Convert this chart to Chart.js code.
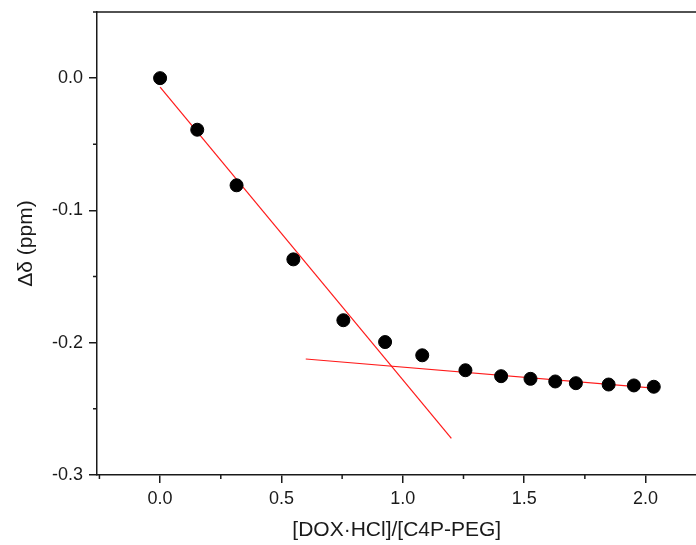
<!DOCTYPE html>
<html>
<head>
<meta charset="utf-8">
<script src="https://cdn.jsdelivr.net/npm/chart.js@4.4.1/dist/chart.umd.min.js"></script>
<style>
  html, body { margin: 0; padding: 0; background: #fff; overflow: hidden; }
  /* the plot frame runs off the right edge in the original, so the canvas is a bit wider than the page */
  #wrap { width: 696px; height: 545px; overflow: hidden; }
</style>
</head>
<body>
<div id="wrap"><canvas id="titration" width="704" height="545"></canvas></div>
<script>
// Measured points: ratio [DOX·HCl]/[C4P-PEG] vs chemical shift change
const ratioX = [0, 0.153, 0.315, 0.549, 0.755, 0.927, 1.080, 1.258, 1.405, 1.526, 1.628, 1.713, 1.848, 1.952, 2.034];
const deltaY = [0, -0.039, -0.081, -0.137, -0.183, -0.1995, -0.2095, -0.2208, -0.2253, -0.2273, -0.2293, -0.2306, -0.2316, -0.2323, -0.2333];

// Two linear fits (end points)
const fit1X = [0, 1.2];
const fit1Y = [-0.0068, -0.2724];
const fit2X = [0.6, 2.034];
const fit2Y = [-0.2123, -0.2344];

// Axis ticks
const xTicks = [0, 0.5, 1.0, 1.5, 2.0];
const xMinorTicks = [-0.25, 0.25, 0.75, 1.25, 1.75];
const yTicks = [-0.3, -0.2, -0.1, 0.0];
const yMinorTicks = [-0.25, -0.15, -0.05];

const FONT = '"Liberation Sans", Arial, sans-serif';
const INK = '#1a1a1a';

function toXY(xs, ys) {
  return xs.map((x, i) => ({ x: x, y: ys[i] }));
}

// Minor ticks and the top frame line
const framePlugin = {
  id: 'frame',
  afterDraw(chart) {
    const ctx = chart.ctx;
    const area = chart.chartArea;
    const xs = chart.scales.x;
    const ys = chart.scales.y;
    ctx.save();
    ctx.strokeStyle = INK;
    ctx.lineWidth = 1.5;
    ctx.beginPath();
    ctx.moveTo(area.left - 4, area.top);
    ctx.lineTo(chart.width, area.top);
    xMinorTicks.forEach(v => {
      const px = xs.getPixelForValue(v);
      ctx.moveTo(px, area.bottom);
      ctx.lineTo(px, area.bottom + 4);
    });
    yMinorTicks.forEach(v => {
      const py = ys.getPixelForValue(v);
      ctx.moveTo(area.left, py);
      ctx.lineTo(area.left - 4, py);
    });
    ctx.stroke();
    ctx.restore();
  }
};

new Chart(document.getElementById('titration').getContext('2d'), {
  type: 'scatter',
  data: {
    datasets: [
      {
        label: 'fit 1',
        data: toXY(fit1X, fit1Y),
        showLine: true,
        borderColor: '#ff1a1a',
        borderWidth: 1.2,
        pointRadius: 0,
        order: 2
      },
      {
        label: 'fit 2',
        data: toXY(fit2X, fit2Y),
        showLine: true,
        borderColor: '#ff1a1a',
        borderWidth: 1.2,
        pointRadius: 0,
        order: 2
      },
      {
        label: 'data',
        data: toXY(ratioX, deltaY),
        backgroundColor: '#000',
        borderColor: '#000',
        pointRadius: 6.5,
        pointHoverRadius: 6.5,
        order: 1
      }
    ]
  },
  options: {
    responsive: false,
    animation: false,
    layout: { padding: { top: 12, right: 0, left: 0, bottom: 0 } },
    plugins: {
      legend: { display: false },
      tooltip: { enabled: false }
    },
    scales: {
      x: {
        type: 'linear',
        min: -0.26,
        max: 2.21,
        afterBuildTicks: scale => { scale.ticks = xTicks.map(v => ({ value: v })); },
        afterFit: scale => {
          scale.height = 70;
          scale.paddingLeft = 0;
          scale.paddingRight = 0;
        },
        border: { color: INK, width: 1.5 },
        grid: { drawOnChartArea: false, drawTicks: true, tickLength: 8, color: INK, lineWidth: 1.5 },
        ticks: {
          padding: 5,
          color: INK,
          font: { family: FONT, size: 18 },
          callback: v => v.toFixed(1)
        },
        title: {
          display: true,
          text: '[DOX·HCl]/[C4P-PEG]',
          color: INK,
          font: { family: FONT, size: 21, lineHeight: 1 },
          padding: { top: 0, bottom: 4.5 }
        }
      },
      y: {
        type: 'linear',
        min: -0.3,
        max: 0.05,
        afterBuildTicks: scale => { scale.ticks = yTicks.map(v => ({ value: v })); },
        afterFit: scale => {
          scale.width = 97;
          scale.paddingTop = 0;
          scale.paddingBottom = 0;
        },
        border: { color: INK, width: 1.5 },
        grid: { drawOnChartArea: false, drawTicks: true, tickLength: 8, color: INK, lineWidth: 1.5 },
        ticks: {
          padding: 6,
          color: INK,
          font: { family: FONT, size: 18 },
          callback: v => v.toFixed(1)
        },
        title: {
          display: true,
          text: 'Δδ (ppm)',
          color: INK,
          font: { family: FONT, size: 21, lineHeight: 1 },
          padding: { top: 15.5, bottom: 0 }
        }
      }
    }
  },
  plugins: [framePlugin]
});
</script>
</body>
</html>
